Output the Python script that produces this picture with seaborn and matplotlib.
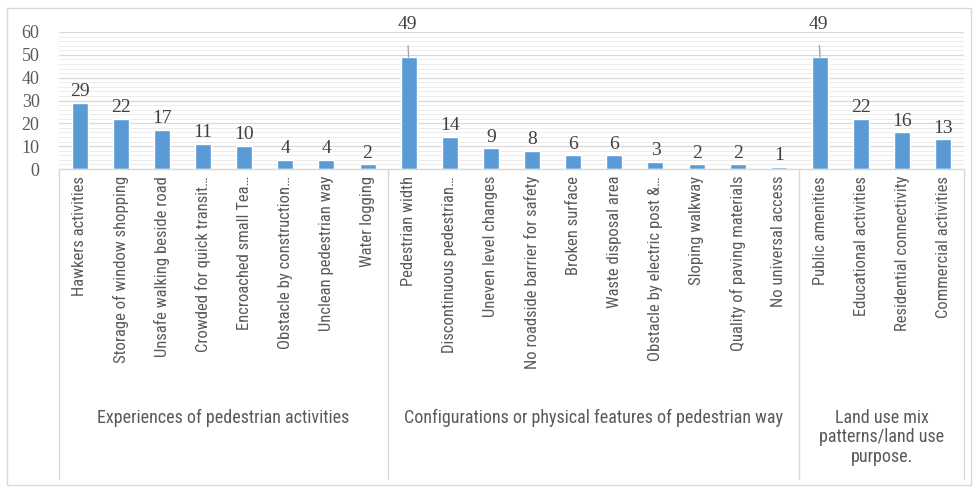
import matplotlib
matplotlib.use("Agg")
import matplotlib.pyplot as plt
import pandas as pd
import seaborn as sns
from matplotlib.lines import Line2D
from matplotlib.patches import Rectangle
from matplotlib.ticker import MultipleLocator

# ── Data ──────────────────────────────────────────────────────────────

experiences = [
    "Hawkers activities", "Storage of window shopping",
    "Unsafe walking beside road", "Crowded for quick transit\u2026",
    "Encroached small Tea\u2026", "Obstacle by construction\u2026",
    "Unclean pedestrian way", "Water logging",
]
experiences_values = [29, 22, 17, 11, 10, 4, 4, 2]

configurations = [
    "Pedestrian width", "Discontinuous pedestrian\u2026",
    "Uneven level changes", "No roadside barrier for safety",
    "Broken surface", "Waste disposal area",
    "Obstacle by electric post &\u2026", "Sloping walkway",
    "Quality of paving materials", "No universal access",
]
configurations_values = [49, 14, 9, 8, 6, 6, 3, 2, 2, 1]

land_use = [
    "Public amenities", "Educational activities",
    "Residential connectivity", "Commercial activities",
]
land_use_values = [49, 22, 16, 13]

group_names = [
    "Experiences of pedestrian activities",
    "Configurations or physical features of pedestrian way",
    "Land use mix\npatterns/land use\npurpose.",
]

BAR_COLOR = "#5B9BD5"
GRID = "#d9d9d9"
TEXT = "#595959"
NARROW = ["Roboto Condensed", "Archivo Narrow", "Liberation Sans", "DejaVu Sans"]
SERIF = ["Liberation Serif", "DejaVu Serif"]

# ── Build table ───────────────────────────────────────────────────────

cats = experiences + configurations + land_use
vals = experiences_values + configurations_values + land_use_values
sizes = [len(experiences), len(configurations), len(land_use)]
df = pd.DataFrame({"category": cats, "value": vals})

sns.set_style("white")

W, H = 976, 487
fig = plt.figure(figsize=(W / 100, H / 100), dpi=100)
ax_left, ax_right, ax_top, ax_bot = 59, 964, 32, 169
ax = fig.add_axes([ax_left / W, 1 - ax_bot / H,
                   (ax_right - ax_left) / W, (ax_bot - ax_top) / H])

sns.barplot(data=df, x="category", y="value", order=cats, color=BAR_COLOR,
            width=0.39, saturation=1, ax=ax)

ax.set_xlim(-0.5, len(cats) - 0.5)
ax.set_ylim(0, 60)
ax.yaxis.set_major_locator(MultipleLocator(10))
ax.yaxis.set_minor_locator(MultipleLocator(2))
ax.grid(axis="y", which="major", color=GRID, lw=0.9)
ax.grid(axis="y", which="minor", color="#ececec", lw=0.7)
ax.set_axisbelow(True)
ax.set_xlabel("")
ax.set_ylabel("")

for s in ["left", "right", "top"]:
    ax.spines[s].set_visible(False)
ax.spines["bottom"].set_color(GRID)
ax.spines["bottom"].set_linewidth(1)

ax.tick_params(axis="both", which="both", length=0)
ax.tick_params(axis="y", pad=14)
ax.tick_params(axis="x", pad=5)
ax.set_xticks(range(len(cats)))
ax.set_xticklabels(cats, rotation=90, va="top", ha="center",
                   family=NARROW, fontsize=12, color=TEXT)
for lbl in ax.get_yticklabels():
    lbl.set_family(SERIF)
    lbl.set_fontsize(13)
    lbl.set_color(TEXT)

# value labels; the tallest ones sit above the plot with a leader line
for i, v in enumerate(vals):
    if v >= 45:
        ax.annotate(str(v), xy=(i, v), xytext=(i - 0.04, 63.5),
                    textcoords="data", ha="center", va="center",
                    family=SERIF, fontsize=14, color="#404040",
                    annotation_clip=False,
                    arrowprops=dict(arrowstyle="-", color="#a6a6a6", lw=1,
                                    shrinkA=7, shrinkB=0))
    else:
        ax.annotate(str(v), xy=(i, v), xytext=(0, 2), textcoords="offset points",
                    ha="center", va="bottom", family=SERIF, fontsize=14,
                    color="#404040")

# category box with group separators
trans = ax.get_xaxis_transform()
box_bottom = -(479 - ax_bot) / (ax_bot - ax_top)
edges = [-0.5]
for n in sizes:
    edges.append(edges[-1] + n)
for x in edges:
    ax.add_line(Line2D([x, x], [0, box_bottom], transform=trans, color=GRID,
                       lw=1, clip_on=False))

label_y = -(409 - ax_bot) / (ax_bot - ax_top)
for k, name in enumerate(group_names):
    ax.text((edges[k] + edges[k + 1]) / 2, label_y, name, transform=trans,
            ha="center", va="top", family=NARROW, fontsize=13, color=TEXT,
            linespacing=1.1)

# outer chart border
fig.patches.append(Rectangle((7 / W, 2 / H), (971 - 7) / W, (H - 8 - 2) / H,
                             transform=fig.transFigure, fill=False,
                             ec=GRID, lw=1))

fig.savefig("out.png", dpi=100)
